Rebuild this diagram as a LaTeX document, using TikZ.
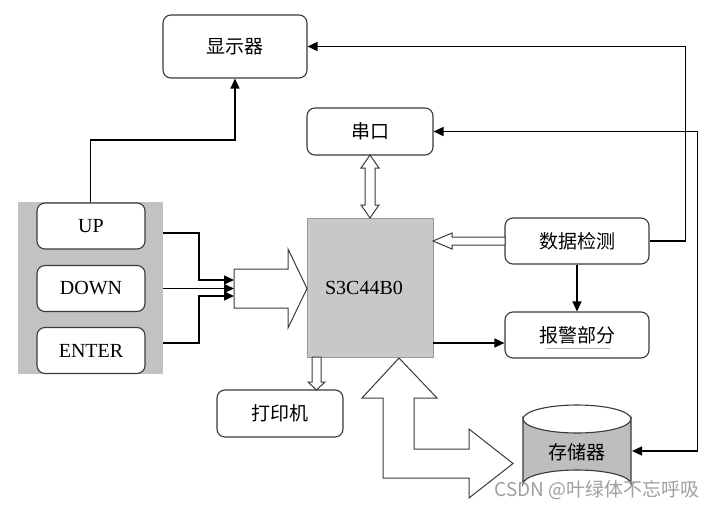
\documentclass[tikz,border=0pt]{standalone}
\usepackage{fontspec}
\setmainfont{Liberation Serif}
\newfontfamily\cjk{Noto Sans CJK SC}
\usetikzlibrary{arrows.meta}
\definecolor{edge}{HTML}{3A3A3A}
\definecolor{cpugray}{HTML}{C8C8C8}
\definecolor{panelgray}{HTML}{C2C2C2}
\definecolor{storgray}{HTML}{BEBEBE}
\begin{document}
\begin{tikzpicture}[x=1pt,y=-1pt,
  rbox/.style={draw=edge,line width=1.1pt,rounded corners=8pt,fill=white,inner sep=0pt},
  zh/.style={font=\cjk\fontsize{19}{22}\selectfont},
  en/.style={font=\fontsize{20}{24}\selectfont},
  arr/.style={draw=black,line width=1.4pt,-{Triangle[length=10pt,width=9pt]}},
  darr/.style={draw=black,line width=1.4pt,{Triangle[length=10pt,width=9pt]}-{Triangle[length=10pt,width=9pt]}},
  hollow/.style={draw=edge,line width=1pt,fill=white,line join=miter}]
\useasboundingbox (0,0) rectangle (716,509);
\fill[white] (0,0) rectangle (716,509);

% nodes
\node[rbox,zh,minimum width=144pt,minimum height=63pt] (display) at (235,46.5) {显示器};
\node[rbox,zh,minimum width=126pt,minimum height=47pt] (serial) at (370,131.5) {串口};
\node[draw=gray!80,line width=0.8pt,fill=cpugray,minimum width=126pt,minimum height=139pt,inner sep=0pt] (cpu) at (370,287.5) {};
\node[en,inner sep=0pt] (cpulabel) at (364,287.5) {S3C44B0};
\node[fill=panelgray,minimum width=145pt,minimum height=172pt,inner sep=0pt] (panel) at (90.5,288) {};
\node[rbox,en,minimum width=108pt,minimum height=46pt] (up) at (91,226) {UP};
\node[rbox,en,minimum width=108pt,minimum height=46pt] (down) at (91,288.5) {DOWN};
\node[rbox,en,minimum width=108pt,minimum height=46pt] (enter) at (91,350.5) {ENTER};
\node[rbox,zh,minimum width=144pt,minimum height=46pt] (detect) at (577,241) {数据检测};
\node[rbox,zh,minimum width=144pt,minimum height=46pt] (alarm) at (577,335) {报警部分};
\draw[gray!60,line width=0.6pt] (546,348.5) -- (610,348.5);
\node[rbox,zh,minimum width=126pt,minimum height=47pt] (printer) at (280,413.5) {打印机};

% storage cylinder
\path[draw=edge,line width=1.1pt,fill=storgray]
  (523,419) -- (523,484) arc[start angle=180,end angle=360,x radius=54,y radius=14]
  -- (631,419) arc[start angle=0,end angle=180,x radius=54,y radius=14] -- cycle;
\draw[edge,line width=1.1pt] (523,419) arc[start angle=180,end angle=360,x radius=54,y radius=14];
\node[zh,inner sep=0pt] (storage) at (577,452) {存储器};
\coordinate (storE) at (632,451);

% connectors
\draw[arr] (panel.north) -- ++(0,-62) -| (display.south);
\coordinate (ka) at (163,233);
\coordinate (kb) at (163,288.5);
\coordinate (kc) at (163,343);
\coordinate (ta) at (234,280);
\coordinate (tb) at (234,288.5);
\coordinate (tc) at (234,296);
\draw[arr] (ka) -- (199,233) |- (ta);
\draw[arr] (kb) -- (tb);
\draw[arr] (kc) -- (199,343) |- (tc);

\draw[arr] (detect.east) -- ++(36,0) |- (display.east);
\draw[darr] (serial.east) -- ++(264,0) |- (storE);
\draw[arr] (detect.south) -- (alarm.north);
\draw[arr] (cpu.east |- 0,343) -- (alarm.west |- 0,343);

% hollow arrows
\draw[hollow] (234,269) -- (288,269) -- (288,249) -- (307,288.5) -- (288,328) -- (288,308) -- (234,308) -- cycle;
\draw[hollow] (433,241) -- (452,233) -- (452,237) -- (505,237) -- (505,245) -- (452,245) -- (452,249) -- cycle;
\draw[hollow] (370,155) -- (379,168) -- (375,168) -- (375,205) -- (379,205) -- (370,218) -- (361,205) -- (365,205) -- (365,168) -- (361,168) -- cycle;
\draw[hollow] (312,357) -- (321,357) -- (321,382) -- (325,382) -- (316.5,390) -- (308,382) -- (312,382) -- cycle;
\draw[hollow] (399,358) -- (437,398) -- (414,398) -- (414,449) -- (469,449) -- (469,429) -- (513,463.5) -- (469,498) -- (469,478) -- (383,478) -- (383,398) -- (362,398) -- cycle;

% watermark
\node[anchor=east,inner sep=0pt,text=gray!75,font=\cjk\fontsize{19}{22}\selectfont] (wm) at (700,490) {CSDN @叶绿体不忘呼吸};
\end{tikzpicture}
\end{document}
